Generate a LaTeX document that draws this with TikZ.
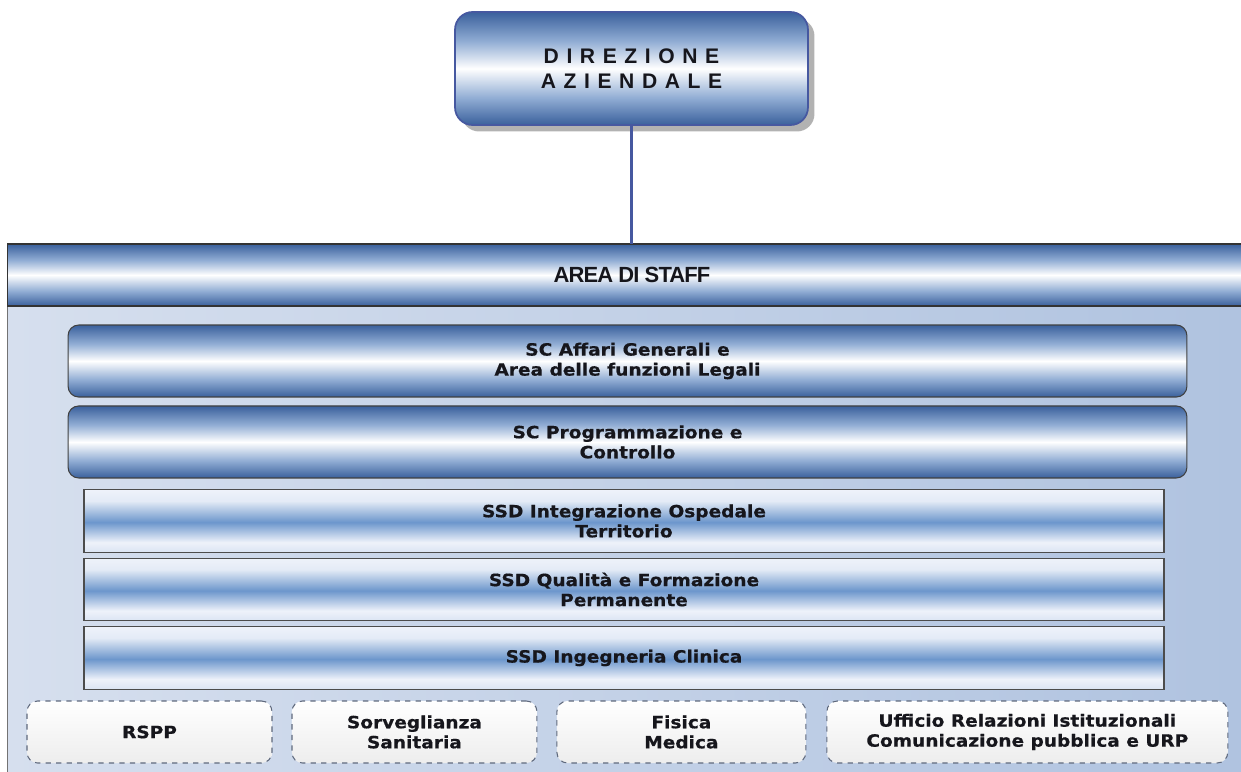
\documentclass[tikz,border=0pt]{standalone}
\usepackage{fontspec}
\usetikzlibrary{positioning,shadows}

\newfontfamily\boxfont[FakeStretch=1.1,FakeBold=0.6]{DejaVu Sans}
\newfontfamily\headfont{Liberation Sans}

\definecolor{tubedark}{RGB}{58,96,156}
\definecolor{tubemid}{RGB}{145,173,212}
\definecolor{stripeblue}{RGB}{108,150,204}
\definecolor{stripelight}{RGB}{238,242,250}
\definecolor{linkblue}{RGB}{70,88,160}
\definecolor{bodylight}{RGB}{214,223,238}
\definecolor{bodyblue}{RGB}{128,160,206}
\definecolor{dashgray}{RGB}{95,105,125}
\definecolor{inkdark}{RGB}{22,22,28}

% cylinder look: dark - white - dark
\pgfdeclareverticalshading{tube}{100bp}{color(0bp)=(tubedark); color(25bp)=(tubedark);
  color(37bp)=(tubemid); color(50bp)=(white); color(62bp)=(tubemid);
  color(75bp)=(tubedark); color(100bp)=(tubedark)}
% striped look of the SSD bars
\pgfdeclareverticalshading{stripe}{100bp}{color(0bp)=(stripelight!85!stripeblue); color(25bp)=(stripelight!85!stripeblue);
  color(33bp)=(stripelight); color(49bp)=(stripeblue); color(66bp)=(stripelight!92!stripeblue);
  color(75bp)=(stripelight); color(100bp)=(stripelight)}

\begin{document}
\begin{tikzpicture}[
	x = 0.02cm, y = -0.02cm, % one unit = one pixel of the sheet
	outer sep = 0pt,
	Dir/.style={rectangle, rounded corners=10pt, draw=linkblue, line width=1pt, shade, shading=tube,
		drop shadow={shadow xshift=0.13cm, shadow yshift=-0.13cm, opacity=.55, fill=black!55},
		minimum width=7.06cm, minimum height=2.26cm, align=center, text=inkdark,
		font=\headfont\bfseries\fontsize{12}{14.5}\selectfont\addfontfeatures{LetterSpace=36}},
	Head/.style={rectangle, draw=black!80, line width=.6pt, shade, shading=tube,
		minimum width=25cm, minimum height=1.24cm, text=inkdark,
		font=\headfont\bfseries\fontsize{12.5}{14}\selectfont\addfontfeatures{LetterSpace=-4}},
	Body/.style={rectangle, draw=black!55, line width=.6pt, left color=bodylight, middle color=bodyblue,
		right color=bodylight!55!bodyblue, minimum width=25cm, minimum height=10.28cm},
	SC/.style={rectangle, rounded corners=6pt, draw=black!75, line width=.6pt, shade, shading=tube,
		minimum width=22.38cm, minimum height=1.44cm, align=center, text=inkdark,
		font=\boxfont\bfseries\fontsize{9.6}{11.4}\selectfont},
	SSD/.style={rectangle, draw=black!70, line width=.7pt, shade, shading=stripe,
		minimum width=21.6cm, minimum height=1.25cm, align=center, text=inkdark,
		font=\boxfont\bfseries\fontsize{9.6}{11.4}\selectfont},
	Staff/.style={rectangle, rounded corners=6pt, draw=dashgray, dashed, line width=.6pt,
		top color=white, bottom color=black!7, minimum height=1.24cm, align=center, text=inkdark,
		font=\boxfont\bfseries\fontsize{9.6}{11.4}\selectfont},
	]

	\useasboundingbox (0,0) rectangle (1241,771);

	% Direzione
	\node[Dir] (DIR) at (631.5,68.5) {DIREZIONE\\AZIENDALE};

	% Area di staff: frame and heading
	\node[Body] (BODY) at (632,563) {};
	\node[Head] (HEAD) at (632,275) {AREA DI STAFF};

	% Strutture complesse
	\node[SC] (AFF) at (627.5,361) {SC Affari Generali e\\Area delle funzioni Legali};
	\node[SC] (PRG) [below = 0.18cm of AFF] {SC Programmazione e\\Controllo};

	% Strutture semplici dipartimentali
	\node[SSD] (INT) at (624,521) {SSD Integrazione Ospedale\\Territorio};
	\node[SSD] (QUA) [below = 0.12cm of INT] {SSD Qualità e Formazione\\Permanente};
	\node[SSD] (ING) [below = 0.12cm of QUA] {SSD Ingegneria Clinica};

	% Uffici di staff
	\node[Staff, minimum width=4.9cm] (RSPP) at (149.5,732) {RSPP};
	\node[Staff, minimum width=4.9cm] (SOR) [right = 0.4cm of RSPP] {Sorveglianza\\Sanitaria};
	\node[Staff, minimum width=4.98cm] (FIS) [right = 0.4cm of SOR] {Fisica\\Medica};
	\node[Staff, minimum width=8.02cm] (URP) [right = 0.42cm of FIS] {Ufficio Relazioni Istituzionali\\Comunicazione pubblica e URP};

	% Link
	\draw[linkblue, line width=1.5pt] (DIR) -- (DIR |- HEAD.north);

\end{tikzpicture}
\end{document}
